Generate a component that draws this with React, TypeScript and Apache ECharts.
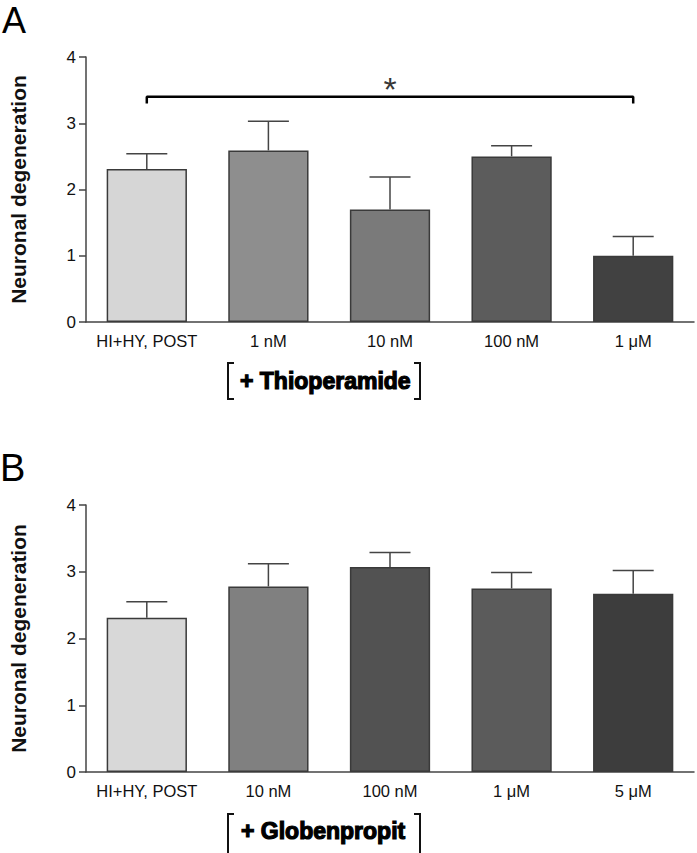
import React, { useEffect, useRef } from "react";
import * as echarts from "echarts";

const catsA = ["HI+HY, POST", "1 nM", "10 nM", "100 nM", "1 μM"];
const meanA = [2.31, 2.59, 1.70, 2.50, 1.00];
const upperA = [2.54, 3.03, 2.19, 2.66, 1.29];
const colorsA = ["#d6d6d6", "#8e8e8e", "#7a7a7a", "#5c5c5c", "#414141"];

const catsB = ["HI+HY, POST", "10 nM", "100 nM", "1 μM", "5 μM"];
const meanB = [2.31, 2.78, 3.07, 2.75, 2.67];
const upperB = [2.55, 3.12, 3.29, 2.99, 3.02];
const colorsB = ["#d8d8d8", "#808080", "#525252", "#5b5b5b", "#3d3d3d"];

const yTicks = [0, 1, 2, 3, 4];
const yName = "Neuronal degeneration";
const sigBracket = [[0, 3.3], [0, 3.4], [4, 3.4], [4, 3.3]];
const sigStar = [[2, 3.4]];

const FONT = "Liberation Sans, Arial, Helvetica, sans-serif";

function axisPair(idx: number, cats: string[]) {
  const x = {
    type: "category",
    gridIndex: idx,
    data: cats,
    axisLine: { lineStyle: { color: "#444", width: 1.5 } },
    axisTick: { show: false },
    axisLabel: { interval: 0, fontSize: 16.5, color: "#111", fontFamily: FONT, margin: 10 },
  };
  const y = {
    type: "value",
    gridIndex: idx,
    min: yTicks[0],
    max: yTicks[yTicks.length - 1],
    interval: 1,
    name: yName,
    nameLocation: "middle",
    nameGap: 57,
    nameTextStyle: { fontSize: 21, fontWeight: "bold", color: "#111", fontFamily: FONT },
    axisLine: { show: true, lineStyle: { color: "#444", width: 1.5 } },
    axisTick: { show: true, length: 7, lineStyle: { color: "#444", width: 1.5 } },
    axisLabel: { fontSize: 17, color: "#111", fontFamily: FONT, margin: 10 },
    splitLine: { show: false },
  };
  return { x, y };
}

function barSeries(idx: number, mean: number[], colors: string[]) {
  return {
    type: "bar",
    xAxisIndex: idx,
    yAxisIndex: idx,
    barWidth: "66%",
    data: mean.map((v, i) => ({ value: v, itemStyle: { color: colors[i] } })),
    itemStyle: { borderColor: "#3a3a3a", borderWidth: 1.5 },
    z: 2,
  };
}

function errSeries(idx: number, mean: number[], upper: number[]) {
  return {
    type: "custom",
    xAxisIndex: idx,
    yAxisIndex: idx,
    data: mean.map((m, i) => [i, m, upper[i]]),
    renderItem: (params: any, api: any) => {
      const i = api.value(0);
      const p0 = api.coord([i, api.value(1)]);
      const p1 = api.coord([i, api.value(2)]);
      const half = 20.5;
      const style = { stroke: "#444", lineWidth: 1.5 };
      return {
        type: "group",
        children: [
          { type: "line", shape: { x1: p0[0], y1: p0[1], x2: p1[0], y2: p1[1] }, style },
          { type: "line", shape: { x1: p1[0] - half, y1: p1[1], x2: p1[0] + half, y2: p1[1] }, style },
        ],
      };
    },
    z: 3,
  };
}

function bracketGraphic(yTop: number, yBot: number, left: number, right: number) {
  const s = { stroke: "#111", lineWidth: 2, fill: null };
  return [
    { type: "polyline", shape: { points: [[left + 6, yTop], [left, yTop], [left, yBot], [left + 6, yBot]] }, style: s },
    { type: "polyline", shape: { points: [[right - 6, yTop], [right, yTop], [right, yBot], [right - 6, yBot]] }, style: s },
  ];
}

export default function App() {
  const ref = useRef<HTMLDivElement>(null);
  useEffect(() => {
    if (!ref.current) return;
    const chart = echarts.init(ref.current, undefined, { renderer: "svg" });
    const a = axisPair(0, catsA);
    const b = axisPair(1, catsB);
    chart.setOption({
      animation: false,
      backgroundColor: "#fff",
      grid: [
        { left: 84, top: 57, width: 610, height: 265 },
        { left: 84, top: 505, width: 610, height: 267 },
      ],
      xAxis: [a.x, b.x],
      yAxis: [a.y, b.y],
      series: [
        barSeries(0, meanA, colorsA),
        errSeries(0, meanA, upperA),
        barSeries(1, meanB, colorsB),
        errSeries(1, meanB, upperB),
        {
          type: "line",
          xAxisIndex: 0,
          yAxisIndex: 0,
          data: sigBracket,
          symbol: "none",
          lineStyle: { color: "#000", width: 2.5 },
          z: 4,
        },
        {
          type: "scatter",
          xAxisIndex: 0,
          yAxisIndex: 0,
          data: sigStar,
          symbolSize: 0,
          label: {
            show: true,
            formatter: "*",
            position: "top",
            distance: -9,
            fontSize: 34,
            color: "#000",
            fontFamily: FONT,
          },
        },
      ],
      graphic: [
        { type: "text", x: 2, y: 2, style: { text: "A", fontSize: 36, fontFamily: FONT, fill: "#000" } },
        { type: "text", x: 0, y: 449, style: { text: "B", fontSize: 38, fontFamily: FONT, fill: "#000" } },
        ...bracketGraphic(363, 399, 228, 420),
        {
          type: "text",
          x: 240,
          y: 381,
          style: {
            text: "+ Thioperamide",
            fontSize: 23,
            fontWeight: "bold",
            fontFamily: FONT,
            fill: "#000",
            stroke: "#000",
            lineWidth: 1.2,
            verticalAlign: "middle",
          },
        },
        ...bracketGraphic(814, 860, 228, 420),
        {
          type: "text",
          x: 241,
          y: 831,
          style: {
            text: "+ Globenpropit",
            fontSize: 23,
            fontWeight: "bold",
            fontFamily: FONT,
            fill: "#000",
            stroke: "#000",
            lineWidth: 1.2,
            verticalAlign: "middle",
          },
        },
      ],
    });
    return () => chart.dispose();
  }, []);
  return (
    <div
      ref={ref}
      style={{ position: "absolute", left: 0, top: 0, width: 697, height: 853 }}
    />
  );
}
